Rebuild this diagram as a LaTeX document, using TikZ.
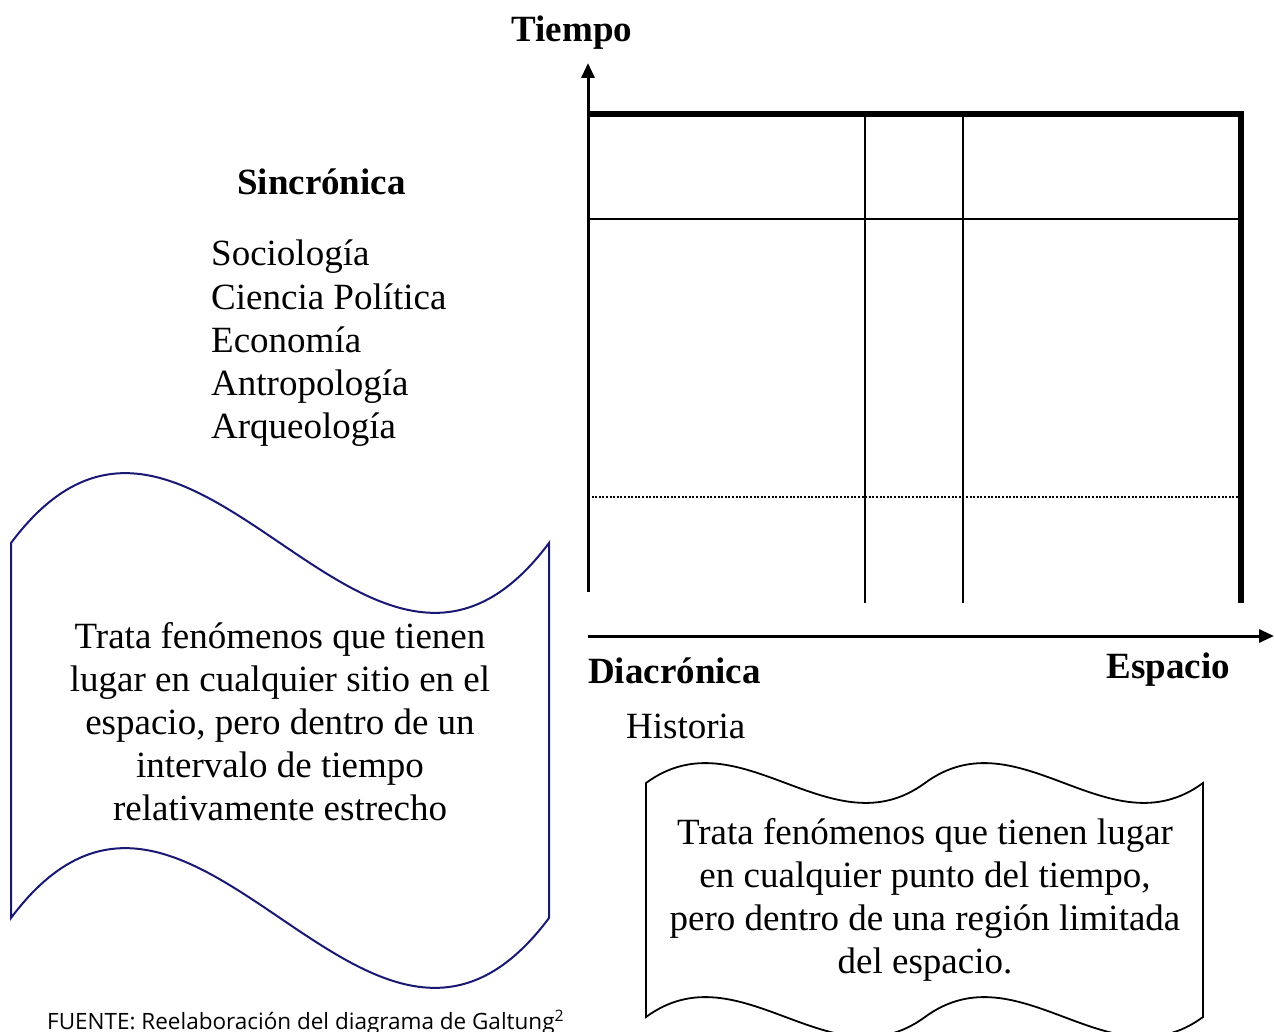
\documentclass[tikz,border=0pt]{standalone}
\usepackage{fontspec}
\setmainfont{Liberation Serif}
\newfontfamily\fuentefont{Open Sans}
\usetikzlibrary{arrows.meta}
\definecolor{navyline}{RGB}{25,25,115}
\begin{document}
\begin{tikzpicture}[x=1pt,y=-1pt,
  lbl/.style={inner sep=0pt, font=\fontsize{37}{43}\selectfont},
  ttl/.style={inner sep=0pt, font=\fontsize{37}{43}\selectfont\bfseries},
  gridthin/.style={line width=2.5pt},
  gridthick/.style={line width=5.5pt},
  axisline/.style={line width=3pt, -{Triangle[width=13pt,length=15pt]}},
  dotline/.style={line width=2.6pt, dash pattern=on 2pt off 1.6pt},
  scrollA/.style={draw=navyline, line width=2pt},
  scrollB/.style={draw=black, line width=1.8pt},
]
\useasboundingbox (0,0) rectangle (1274,1032);

% axes
\coordinate (vb) at (588,592);
\coordinate (vt) at (588,63);
\coordinate (hl) at (588,636);
\coordinate (hr) at (1274,636);
\draw[axisline] (vb) -- (vt);
\draw[axisline] (hl) -- (hr);

% grid
\draw[gridthick] (586.5,114) -- (1241,114) -- (1241,603);
\draw[gridthin] (865,114) -- (865,603);
\draw[gridthin] (963,114) -- (963,603);
\draw[gridthin] (588,219) -- (1241,219);
\draw[dotline] (588,497) -- (1238,497);

% scrolls
\draw[scrollA] (11,543) .. controls (192,301) and (368,785) .. (549,543)
  -- (549,918) .. controls (368,1160) and (192,676) .. (11,918) -- cycle;
\draw[scrollB] (646,783) .. controls (740,714) and (831,852) .. (925,783)
  .. controls (1019,714) and (1109,852) .. (1203,783)
  -- (1203,1017) .. controls (1109,1086) and (1019,948) .. (925,1017)
  .. controls (831,1086) and (740,948) .. (646,1017) -- cycle;

% titles
\node[ttl, anchor=base] (tiempo) at (572,42) {Tiempo};
\node[ttl, anchor=base west] (sinc) at (237,195) {Sincrónica};
\node[ttl, anchor=base west] (diac) at (588,683) {Diacrónica};
\node[ttl, anchor=base east] (esp) at (1230,678) {Espacio};

% lists
\node[lbl, anchor=base west] (s1) at (211,266) {Sociología};
\node[lbl, anchor=base west] (s2) at (211,309) {Ciencia Política};
\node[lbl, anchor=base west] (s3) at (211,352) {Economía};
\node[lbl, anchor=base west] (s4) at (211,395) {Antropología};
\node[lbl, anchor=base west] (s5) at (211,438) {Arqueología};
\node[lbl, anchor=base west] (hist) at (626,738) {Historia};

% left scroll text
\node[lbl, anchor=base] (l1) at (280,648) {Trata fenómenos que tienen};
\node[lbl, anchor=base] (l2) at (280,691) {lugar en cualquier sitio en el};
\node[lbl, anchor=base] (l3) at (280,734) {espacio, pero dentro de un};
\node[lbl, anchor=base] (l4) at (280,777) {intervalo de tiempo};
\node[lbl, anchor=base] (l5) at (280,820) {relativamente estrecho};

% right scroll text
\node[lbl, anchor=base] (r1) at (925,844) {Trata fenómenos que tienen lugar};
\node[lbl, anchor=base] (r2) at (925,887) {en cualquier punto del tiempo,};
\node[lbl, anchor=base] (r3) at (925,930) {pero dentro de una región limitada};
\node[lbl, anchor=base] (r4) at (925,973) {del espacio.};

% source
\node[inner sep=0pt, anchor=base west, font=\fuentefont\fontsize{22.5}{26}\selectfont] (src) at (47,1029)
  {FUENTE: Reelaboración del diagrama de Galtung\textsuperscript{2}};
\end{tikzpicture}
\end{document}
